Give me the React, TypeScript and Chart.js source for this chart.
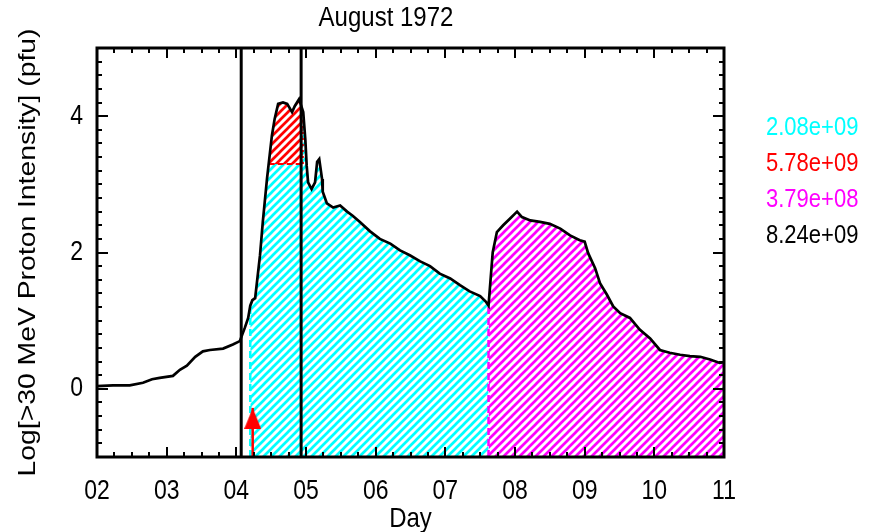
import React, { useEffect, useRef } from 'react';
import { Chart, registerables } from 'chart.js';

Chart.register(...registerables);

const TITLE = 'August 1972';
const X_LABEL = 'Day';
const Y_LABEL = 'Log[>30 MeV Proton Intensity] (pfu)';
const X_TICKS = [2, 3, 4, 5, 6, 7, 8, 9, 10, 11];
const Y_TICKS = [0, 2, 4];
const X_MIN = 2;
const X_MAX = 11;
const Y_MIN = -1;
const Y_MAX = 5;

const DAYS = [
  2.0, 2.23, 2.47, 2.66, 2.79, 2.9, 3.09, 3.19, 3.29, 3.41, 3.52, 3.62, 3.81, 3.95, 4.05, 4.12, 4.17,
  4.2, 4.23, 4.27, 4.34, 4.38, 4.44, 4.51, 4.55, 4.6, 4.67, 4.73, 4.8, 4.84, 4.9, 4.96, 4.99, 5.01,
  5.03, 5.08, 5.13, 5.16, 5.19, 5.23, 5.24, 5.3, 5.39, 5.49, 5.59, 5.67, 5.77, 5.92, 6.06, 6.21,
  6.35, 6.49, 6.64, 6.78, 6.92, 7.07, 7.21, 7.35, 7.5, 7.58, 7.62, 7.68, 7.74, 7.83, 7.93, 8.0,
  8.03, 8.1, 8.22, 8.36, 8.5, 8.65, 8.79, 8.93, 9.0, 9.05, 9.15, 9.22, 9.32, 9.41, 9.51, 9.65,
  9.79, 9.94, 10.08, 10.22, 10.37, 10.51, 10.66, 10.8, 10.94, 11.0,
];
const LOG_FLUX = [
  0.04, 0.05, 0.05, 0.09, 0.14, 0.16, 0.19, 0.28, 0.34, 0.47, 0.55, 0.57, 0.59, 0.65, 0.7, 0.89, 1.04,
  1.22, 1.3, 1.33, 1.96, 2.45, 3.08, 3.71, 3.96, 4.18, 4.2, 4.18, 4.06, 4.15, 4.25, 4.06, 3.66, 3.27,
  3.03, 2.93, 3.03, 3.33, 3.37, 3.08, 2.89, 2.72, 2.66, 2.69, 2.6, 2.54, 2.45, 2.31, 2.2, 2.13,
  2.03, 1.96, 1.87, 1.8, 1.69, 1.62, 1.52, 1.43, 1.36, 1.28, 1.22, 2.0, 2.3, 2.4, 2.5, 2.57,
  2.6, 2.52, 2.47, 2.45, 2.42, 2.35, 2.25, 2.18, 2.16, 1.99, 1.77, 1.55, 1.38, 1.21, 1.11, 1.04,
  0.87, 0.74, 0.57, 0.53, 0.5, 0.48, 0.47, 0.43, 0.38, 0.39,
];

const EVENT_DAYS = [4.07, 4.93];
const ONSET_DAY = 4.235;
const ONSET_TIP = -0.28;
const CYAN_START = 4.2;
const CYAN_END = 7.62;
const RED_LEVEL = 3.3;
const RED_END = 4.955;
const FLUENCE_LABELS = ['2.08e+09', '5.78e+09', '3.79e+08', '8.24e+09'];
const FLUENCE_COLORS = ['#00ffff', '#ff0000', '#ff00ff', '#000000'];

const FONT = '"Liberation Sans", Arial, sans-serif';
const STRETCH = 1.18;

function curveAt(x: number): number {
  for (let i = 0; i < DAYS.length - 1; i++) {
    if (x >= DAYS[i] && x <= DAYS[i + 1]) {
      const t = (x - DAYS[i]) / (DAYS[i + 1] - DAYS[i]);
      return LOG_FLUX[i] + t * (LOG_FLUX[i + 1] - LOG_FLUX[i]);
    }
  }
  return LOG_FLUX[LOG_FLUX.length - 1];
}

function redStart(): number {
  for (let i = 0; i < DAYS.length - 1; i++) {
    if (DAYS[i] >= CYAN_START && LOG_FLUX[i] <= RED_LEVEL && LOG_FLUX[i + 1] > RED_LEVEL) {
      const t = (RED_LEVEL - LOG_FLUX[i]) / (LOG_FLUX[i + 1] - LOG_FLUX[i]);
      return DAYS[i] + t * (DAYS[i + 1] - DAYS[i]);
    }
  }
  return CYAN_START;
}

function makeHatch(ctx: CanvasRenderingContext2D, color: string): CanvasPattern | string {
  const s = 8;
  const c = document.createElement('canvas');
  c.width = s;
  c.height = s;
  const g = c.getContext('2d');
  if (!g) return color;
  g.strokeStyle = color;
  g.lineWidth = 2.7;
  g.beginPath();
  g.moveTo(-1, s + 1);
  g.lineTo(s + 1, -1);
  g.moveTo(-2, 2);
  g.lineTo(2, -2);
  g.moveTo(s - 2, s + 2);
  g.lineTo(s + 2, s - 2);
  g.stroke();
  return ctx.createPattern(c, 'repeat') || color;
}

function makeArrowHead(color: string): HTMLCanvasElement {
  const w = 17;
  const h = 21;
  const c = document.createElement('canvas');
  c.width = w;
  c.height = h * 2;
  const g = c.getContext('2d');
  if (g) {
    g.fillStyle = color;
    g.beginPath();
    g.moveTo(w / 2, h);
    g.lineTo(w, h * 2);
    g.lineTo(0, h * 2);
    g.closePath();
    g.fill();
  }
  return c;
}

function drawText(ctx: CanvasRenderingContext2D, text: string, x: number, y: number, vertical = false) {
  ctx.save();
  ctx.translate(x, y);
  if (vertical) {
    ctx.rotate(-Math.PI / 2);
    ctx.scale(STRETCH, 1);
  } else {
    ctx.scale(1, STRETCH);
  }
  ctx.fillText(text, 0, 0);
  ctx.restore();
}

const framePlugin = {
  id: 'idlFrame',
  afterDatasetsDraw(chart: any) {
    const { ctx, chartArea: a, scales } = chart;
    const xs = scales.x;
    const ys = scales.y;
    ctx.save();
    ctx.strokeStyle = '#000';
    ctx.lineWidth = 2;
    ctx.beginPath();
    const perDay = 4;
    for (let i = 0; i <= (X_MAX - X_MIN) * perDay; i++) {
      const v = X_MIN + i / perDay;
      const px = Math.round(xs.getPixelForValue(v));
      const len = i % perDay === 0 ? 10 : 5;
      ctx.moveTo(px, a.bottom);
      ctx.lineTo(px, a.bottom - len);
      ctx.moveTo(px, a.top);
      ctx.lineTo(px, a.top + len);
    }
    const perUnit = 5;
    for (let i = 0; i <= (Y_MAX - Y_MIN) * perUnit; i++) {
      const v = Y_MIN + i / perUnit;
      const py = Math.round(ys.getPixelForValue(v));
      const major = Y_TICKS.some((t) => Math.abs(t - v) < 1e-6);
      const len = major ? 11 : 5;
      ctx.moveTo(a.left, py);
      ctx.lineTo(a.left + len, py);
      ctx.moveTo(a.right, py);
      ctx.lineTo(a.right - len, py);
    }
    ctx.stroke();
    ctx.lineWidth = 3;
    ctx.strokeRect(a.left, a.top, a.right - a.left, a.bottom - a.top);

    ctx.fillStyle = '#000';
    ctx.textBaseline = 'middle';
    ctx.textAlign = 'center';
    ctx.font = `24px ${FONT}`;
    drawText(ctx, TITLE, 386, 18);
    drawText(ctx, X_LABEL, (a.left + a.right) / 2, 519);
    drawText(ctx, Y_LABEL, 28, (a.top + a.bottom) / 2, true);

    ctx.font = `23px ${FONT}`;
    X_TICKS.forEach((v) => {
      drawText(ctx, String(v).padStart(2, '0'), xs.getPixelForValue(v), 492);
    });
    ctx.textAlign = 'right';
    Y_TICKS.forEach((v) => {
      drawText(ctx, String(v), 83, ys.getPixelForValue(v));
    });

    ctx.textAlign = 'left';
    ctx.font = `22px ${FONT}`;
    FLUENCE_LABELS.forEach((t, i) => {
      ctx.fillStyle = FLUENCE_COLORS[i];
      drawText(ctx, t, a.right + 42, a.top + 80 + i * 36);
    });
    ctx.restore();
  },
};

export default function App() {
  const ref = useRef<HTMLCanvasElement | null>(null);

  useEffect(() => {
    document.body.style.margin = '0';
    const canvas = ref.current;
    if (!canvas) return;
    const ctx = canvas.getContext('2d');
    if (!ctx) return;

    const curve = DAYS.map((d, i) => ({ x: d, y: LOG_FLUX[i] }));
    const xr = redStart();

    const redFill = [{ x: xr, y: RED_LEVEL }]
      .concat(curve.filter((p) => p.x > xr && p.x < RED_END))
      .concat([{ x: RED_END, y: curveAt(RED_END) }]);

    const cyanPts: { x: number; y: number; o: number }[] = [
      { x: CYAN_START, y: curveAt(CYAN_START), o: 0 },
      { x: xr, y: RED_LEVEL, o: 0 },
      { x: RED_END, y: RED_LEVEL, o: 0 },
      { x: RED_END, y: curveAt(RED_END), o: 1 },
      { x: CYAN_END, y: curveAt(CYAN_END), o: 0 },
    ];
    curve.forEach((p) => {
      if (p.x > CYAN_START && p.x < CYAN_END) {
        const inRed = p.x > xr && p.x < RED_END;
        cyanPts.push({ x: p.x, y: inRed ? Math.min(p.y, RED_LEVEL) : p.y, o: 0 });
      }
    });
    cyanPts.sort((a, b) => a.x - b.x || a.o - b.o);
    const cyanFill = cyanPts.map((p) => ({ x: p.x, y: p.y }));

    const magentaFill = [{ x: CYAN_END, y: curveAt(CYAN_END) }].concat(curve.filter((p) => p.x > CYAN_END));

    const arrowHead = makeArrowHead('#ff0000');

    const line = (data: any[], color: string, width: number, dash: number[] = []) => ({
      data,
      borderColor: color,
      borderWidth: width,
      borderDash: dash,
      fill: false,
      pointRadius: 0,
      tension: 0,
    });

    const chart = new Chart(ctx, {
      type: 'line',
      data: {
        datasets: [
          line(curve, '#000000', 2.7),
          ...EVENT_DAYS.map((d) => line([{ x: d, y: Y_MIN }, { x: d, y: Y_MAX }], '#000000', 3)),
          {
            ...line([{ x: ONSET_DAY, y: Y_MIN }, { x: ONSET_DAY, y: ONSET_TIP }], '#ff0000', 2.5),
            pointRadius: [0, 5],
            pointStyle: ['circle', arrowHead],
          },
          line([{ x: xr, y: RED_LEVEL }, { x: RED_END, y: RED_LEVEL }], '#ff0000', 2, [6, 3]),
          line([{ x: RED_END, y: RED_LEVEL }, { x: RED_END, y: curveAt(RED_END) }], '#ff0000', 2, [2, 4]),
          line([{ x: CYAN_END, y: Y_MIN }, { x: CYAN_END, y: curveAt(CYAN_END) }], '#ff00ff', 2.5, [7, 4]),
          line([{ x: CYAN_START, y: Y_MIN }, { x: CYAN_START, y: curveAt(CYAN_START) }], '#00ffff', 2.5, [7, 4]),
          { ...line(magentaFill, 'rgba(0,0,0,0)', 0), fill: 'start', backgroundColor: makeHatch(ctx, '#ff00ff') },
          { ...line(redFill, 'rgba(0,0,0,0)', 0), fill: { value: RED_LEVEL }, backgroundColor: makeHatch(ctx, '#ff0000') },
          { ...line(cyanFill, 'rgba(0,0,0,0)', 0), fill: 'start', backgroundColor: makeHatch(ctx, '#00ffff') },
        ] as any,
      },
      options: {
        animation: false,
        responsive: false,
        events: [],
        layout: { padding: { top: 48, right: 149, left: 0, bottom: 0 } },
        plugins: { legend: { display: false }, tooltip: { enabled: false }, title: { display: false } },
        scales: {
          x: {
            type: 'linear',
            min: X_MIN,
            max: X_MAX,
            grid: { display: false },
            border: { display: false },
            afterBuildTicks: (s: any) => {
              s.ticks = X_TICKS.map((v) => ({ value: v }));
            },
            afterFit: (s: any) => {
              s.height = 75;
            },
            ticks: { display: false },
          },
          y: {
            type: 'linear',
            min: Y_MIN,
            max: Y_MAX,
            grid: { display: false },
            border: { display: false },
            afterBuildTicks: (s: any) => {
              s.ticks = Y_TICKS.map((v) => ({ value: v }));
            },
            afterFit: (s: any) => {
              s.width = 97;
            },
            ticks: { display: false },
          },
        },
      },
      plugins: [framePlugin],
    });

    return () => chart.destroy();
  }, []);

  return (
    <div style={{ width: 873, height: 532 }}>
      <canvas ref={ref} width={873} height={532} style={{ display: 'block' }} />
    </div>
  );
}
